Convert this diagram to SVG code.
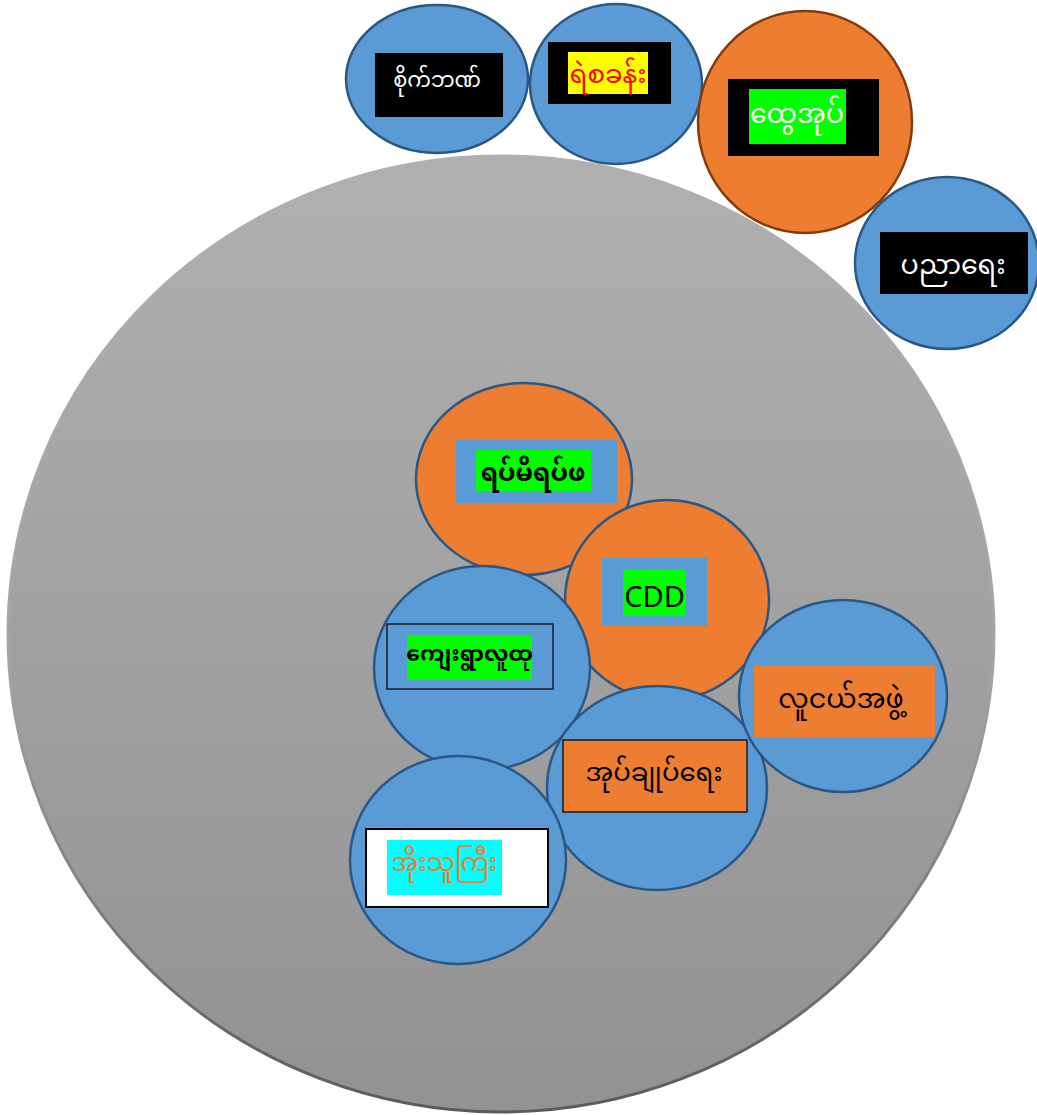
<svg xmlns="http://www.w3.org/2000/svg" width="1037" height="1115" viewBox="0 0 1037 1115">
<defs>
<linearGradient id="g" x1="0" y1="0" x2="0" y2="1">
<stop offset="0" stop-color="#b0b0b0"/>
<stop offset="1" stop-color="#929292"/>
</linearGradient>
<linearGradient id="gs" x1="0" y1="0" x2="0" y2="1">
<stop offset="0" stop-color="#b0b0b0"/>
<stop offset="0.55" stop-color="#a3a3a3"/>
<stop offset="1" stop-color="#5a5a5a"/>
</linearGradient>
<style>
.b{fill:#5b9bd5;stroke:#2a5785;stroke-width:2.5}
.o{fill:#ed7d31;stroke:#2a5785;stroke-width:2.5}
.ob{fill:#ed7d31;stroke:#843c0c;stroke-width:2.5}
text{font-family:"Noto Sans Myanmar","Padauk","Myanmar Text","DejaVu Sans",sans-serif;text-anchor:middle}
</style>
</defs>
<ellipse id="outer" cx="501" cy="634" rx="493" ry="478" fill="url(#g)" stroke="url(#gs)" stroke-width="3"/>
<g id="n1"><ellipse class="b" cx="437" cy="79" rx="91" ry="74"/><rect x="375" y="53" width="128" height="64" fill="#000"/><text x="437" y="87" font-size="21" fill="#fff">စိုက်ဘဏ်</text></g>
<g id="n2"><ellipse class="b" cx="616" cy="84" rx="86" ry="80"/><rect x="548" y="42" width="123" height="62" fill="#000"/><rect x="568" y="52" width="80" height="42" fill="#ffff00"/><text x="608" y="83" font-size="26" fill="#ff0000">ရဲစခန်း</text></g>
<g id="n3"><ellipse class="ob" cx="805" cy="122" rx="107" ry="111"/><rect x="728" y="79" width="151" height="77" fill="#000"/><rect x="749" y="89" width="97" height="55" fill="#00ff00"/><text x="797" y="123" font-size="27" fill="#fff">ထွေအုပ်</text></g>
<g id="n4"><ellipse class="b" cx="947" cy="263" rx="92" ry="86"/><rect x="880" y="232" width="148" height="62" fill="#000"/><text x="953" y="274" font-size="27" fill="#fff">ပညာရေး</text></g>
<g id="n5"><ellipse class="o" cx="524" cy="479" rx="108" ry="96"/><rect x="456" y="440" width="161" height="63" fill="#5b9bd5"/><rect x="476" y="450" width="115" height="41" fill="#00ff00"/><text x="533" y="481" font-size="25" font-weight="bold" fill="#000">ရပ်မိရပ်ဖ</text></g>
<g id="n6"><ellipse class="o" cx="667" cy="600" rx="102" ry="100"/><rect x="602" y="558" width="105" height="68" fill="#5b9bd5"/><rect x="623" y="569" width="63" height="47" fill="#00ff00"/><text x="654.500" y="607" font-size="29" fill="#000" font-family="DejaVu Sans">CDD</text></g>
<g id="n7"><ellipse class="b" cx="482" cy="668" rx="108" ry="102"/><rect x="387" y="624" width="166" height="65" fill="none" stroke="#1a1a1a" stroke-width="1.5"/><rect x="407" y="635" width="125" height="45" fill="#00ff00"/><text x="469.500" y="661" font-size="22" font-weight="bold" fill="#000">ကျေးရွာလူထု</text></g>
<g id="n9"><ellipse class="b" cx="657" cy="788" rx="110" ry="102"/><rect x="563" y="740" width="184" height="72" fill="#ed7d31" stroke="#1a1a1a" stroke-width="1.5"/><text x="654" y="781" font-size="26" fill="#000">အုပ်ချုပ်ရေး</text></g>
<g id="n8"><ellipse class="b" cx="843" cy="696" rx="104" ry="96"/><rect x="754" y="665" width="181" height="72" fill="#ed7d31"/><text x="841" y="708" font-size="27" fill="#000">လူငယ်အဖွဲ့</text></g>
<g id="n10"><ellipse class="b" cx="458" cy="860" rx="108" ry="104"/><rect x="366" y="829" width="182" height="78" fill="#fff" stroke="#000" stroke-width="2"/><rect x="387" y="840" width="115" height="55" fill="#00ffff"/><text x="444.500" y="871" font-size="25" fill="#ed7d31">အိုးသူကြီး</text></g>
<g id="connectors"/>
</svg>
